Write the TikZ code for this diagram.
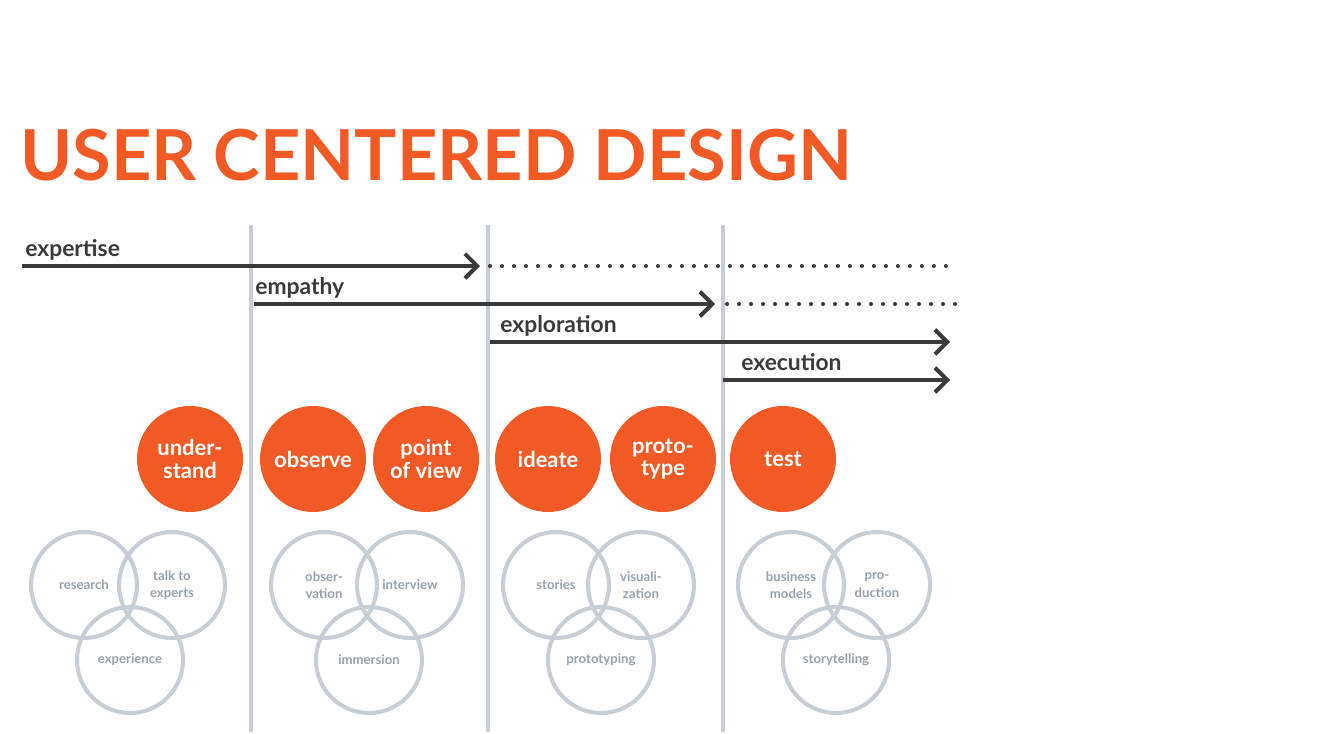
\documentclass[tikz,border=0pt]{standalone}
\usepackage{fontspec}
\setmainfont{Lato}
\usetikzlibrary{arrows.meta}
\definecolor{ucdorange}{HTML}{F15A24}
\definecolor{ucdgray}{HTML}{C8CED5}
\definecolor{ucdtext}{HTML}{98A1AB}
\definecolor{ucddark}{HTML}{3A3A3C}
\begin{document}
\begin{tikzpicture}[x=0.02cm, y=-0.02cm,
  phase/.style={circle, fill=ucdorange, minimum size=2.12cm, inner sep=0pt, text=white,
    font=\fontsize{12.5}{13}\selectfont\bfseries, align=center},
  method/.style={circle, draw=ucdgray, line width=2.3pt, minimum size=2.12cm, inner sep=0pt,
    text=ucdtext, font=\fontsize{7.5}{10}\selectfont\bfseries, align=center},
  divider/.style={ucdgray, line width=2.3pt},
  track/.style={ucddark, line width=2.3pt, -{Straight Barb[length=7pt,width=14pt,line width=2.3pt]}},
  trail/.style={ucddark, line width=2.3pt, line cap=round, dash pattern=on 0pt off 0.24cm},
  tracklabel/.style={anchor=base west, inner sep=0pt, text=ucddark, font=\fontsize{13}{14}\selectfont\bfseries}]
\useasboundingbox (0,0) rectangle (1320,734);

% title
\node [anchor=base west, inner sep=0pt, text=ucdorange, font=\fontsize{40}{40}\selectfont\bfseries] (title) at (20,180) {USER CENTERED DESIGN};

% dividers
\foreach \x/\n in {251/a, 488/b, 723/c} {
  \coordinate (top_\n) at (\x,225);
  \coordinate (bot_\n) at (\x,732);
  \draw [divider] (top_\n) -- (bot_\n);
}

% tracks
\coordinate (s_exp) at (22,266);   \coordinate (e_exp) at (480,266);
\coordinate (d_exp) at (490,266);  \coordinate (f_exp) at (955,266);
\coordinate (s_emp) at (254,304);  \coordinate (e_emp) at (715,304);
\coordinate (d_emp) at (727,304);  \coordinate (f_emp) at (955,304);
\coordinate (s_xpl) at (490,342);  \coordinate (e_xpl) at (950,342);
\coordinate (s_xec) at (723,380);  \coordinate (e_xec) at (950,380);

\draw [track] (s_exp) -- (e_exp);
\draw [trail] (d_exp) -- (f_exp);
\draw [track] (s_emp) -- (e_emp);
\draw [trail] (d_emp) -- (f_emp);
\draw [track] (s_xpl) -- (e_xpl);
\draw [track] (s_xec) -- (e_xec);

\node [tracklabel] (l_exp) at (25,256) {expertise};
\node [tracklabel] (l_emp) at (255,294) {empathy};
\node [tracklabel] (l_xpl) at (500,332) {exploration};
\node [tracklabel] (l_xec) at (741,370) {execution};

% phases
\node [phase] (understand) at (190,459) {under-\\stand};
\node [phase] (observe) at (313,459) {observe};
\node [phase] (pov) at (426,459) {point\\of view};
\node [phase] (ideate) at (548,459) {ideate};
\node [phase] (prototype) at (663,459) {proto-\\type};
\node [phase] (test) at (783,459) {test};

% methods
\node [method] (research) at (84,585) {research};
\node [method] (experts) at (172,585) {talk to\\experts};
\node [method] (experience) at (130,660) {experience};
\node [method] (observation) at (324,585) {obser-\\vation};
\node [method] (interview) at (410,585) {interview};
\node [method] (immersion) at (369,660) {immersion};
\node [method] (stories) at (556,585) {stories};
\node [method] (visual) at (641,585) {visuali-\\zation};
\node [method] (prototyping) at (601,660) {prototyping};
\node [method] (business) at (791,585) {business\\models};
\node [method] (production) at (877,585) {pro-\\duction};
\node [method] (story) at (836,660) {storytelling};

\end{tikzpicture}
\end{document}
